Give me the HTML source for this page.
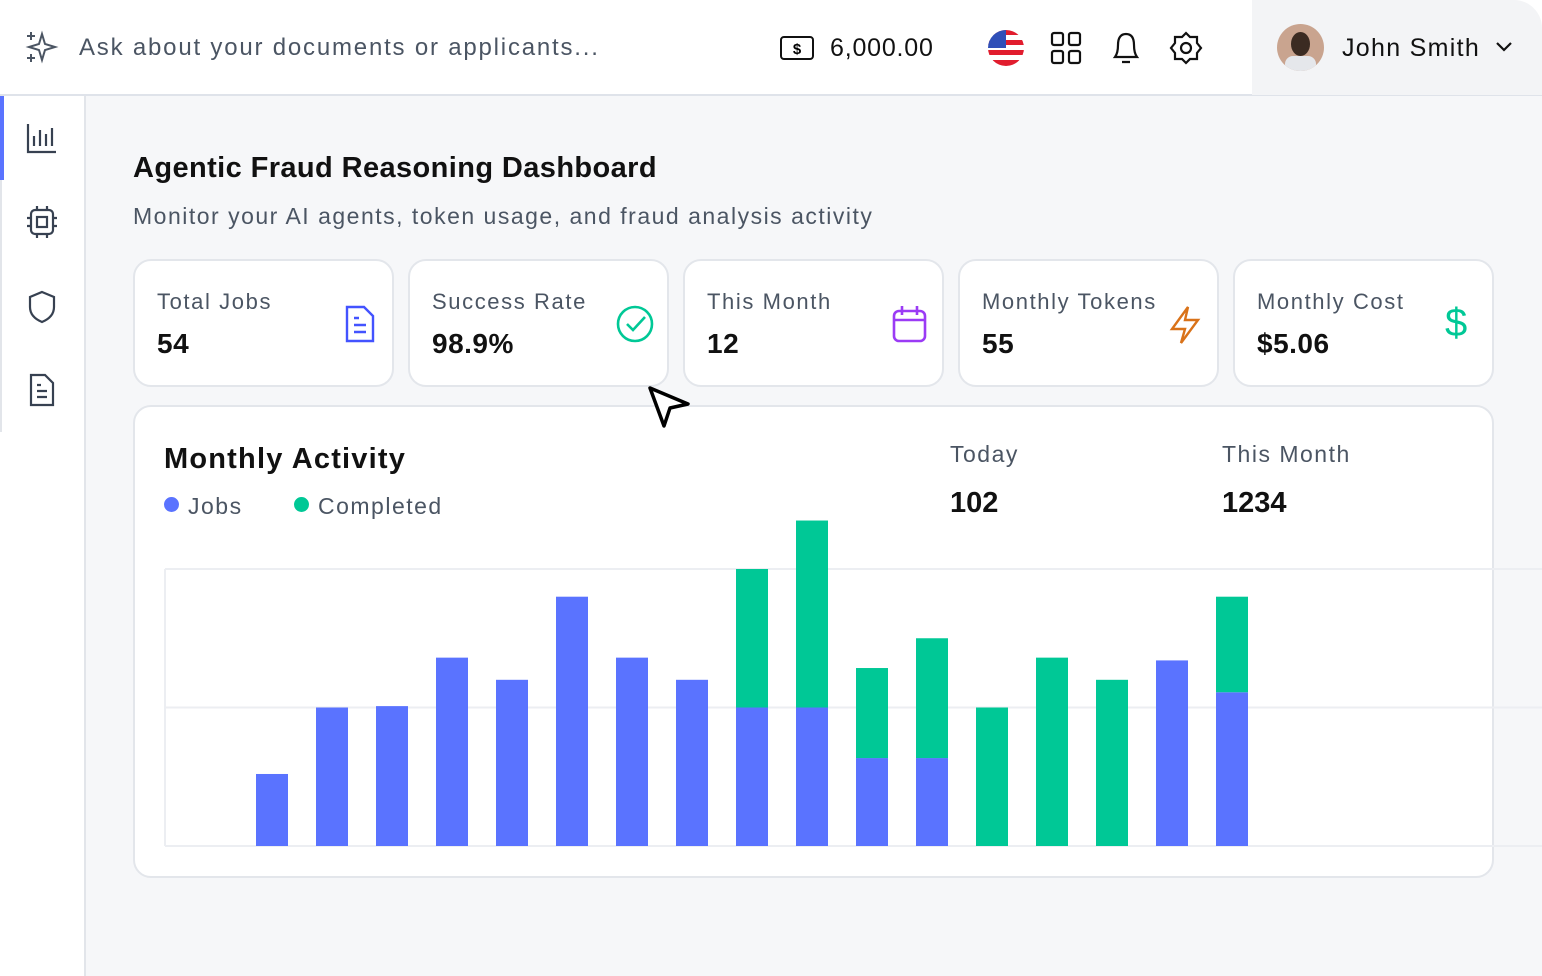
<!DOCTYPE html>
<html><head><meta charset="utf-8">
<style>
*{box-sizing:border-box;margin:0;padding:0}
body{width:1542px;height:976px;overflow:hidden;background:#f6f7f9;font-family:"Liberation Sans",sans-serif;position:relative;color:#111827}
.abs{position:absolute}
.top{left:0;top:0;width:1542px;height:96px;background:#fff;border-bottom:2px solid #dfe3ea}
.prof{left:1252px;top:0;width:290px;height:95px;background:#f3f4f6;border-top-right-radius:28px}
.side{left:0;top:96px;width:86px;height:880px;background:#fff;border-right:2px solid #e2e5ea}
.card{background:#fff;border:2px solid #e3e6eb;border-radius:18px}
.lbl{font-size:22px;color:#4b5563;letter-spacing:1.6px}
.val{font-size:28px;font-weight:bold;color:#111;letter-spacing:0.5px}
.ls{letter-spacing:1.5px}
svg{overflow:visible}
</style></head><body>
<div class="abs top"></div>
<div class="abs prof"></div>
<svg class="abs" style="left:26px;top:30px" width="32" height="34"><path d="M16 4 L19 14 L29 17 L19 20 L16 30 L13 20 L3 17 L13 14Z M5 2v8 M1 6h8 M5 24v8 M1 28h8" fill="none" stroke="#4b5563" stroke-width="2"/></svg>
<div class="abs" style="left:79px;top:34px;font-size:24px;color:#4b5563;letter-spacing:1.8px">Ask about your documents or applicants...</div>
<svg class="abs" style="left:780px;top:36px" width="34" height="24"><rect x="1" y="1" width="32" height="22" rx="3" fill="none" stroke="#111" stroke-width="2"/><text x="17" y="18" font-size="15" text-anchor="middle" font-family="Liberation Sans" font-weight="bold">$</text></svg>
<div class="abs" style="left:830px;top:34px;font-size:25px;color:#111;letter-spacing:0.8px">6,000.00</div>
<svg class="abs" style="left:988px;top:30px" width="36" height="36"><clipPath id="c"><circle cx="18" cy="18" r="18"/></clipPath><g clip-path="url(#c)"><rect width="36" height="36" fill="#fff"/><rect y="0" width="36" height="5" fill="#e11d2e"/><rect y="10" width="36" height="5" fill="#e11d2e"/><rect y="20" width="36" height="5" fill="#e11d2e"/><rect y="30" width="36" height="6" fill="#e11d2e"/><rect width="18" height="18" fill="#2f4fb8"/></g></svg>
<svg class="abs" style="left:1051px;top:32px" width="30" height="32"><g fill="none" stroke="#111" stroke-width="2.2"><rect x="1" y="1" width="11" height="12" rx="2"/><rect x="18" y="1" width="11" height="12" rx="2"/><rect x="1" y="19" width="11" height="12" rx="2"/><rect x="18" y="19" width="11" height="12" rx="2"/></g></svg>
<svg class="abs" style="left:1111px;top:31px" width="30" height="34"><path d="M4 26 Q7 22 7 14 Q7 3 15 3 Q23 3 23 14 Q23 22 26 26Z M11 31h8" fill="none" stroke="#111" stroke-width="2.2"/></svg>
<svg class="abs" style="left:1170px;top:31px" width="32" height="34"><path d="M16 2 L20 6 L27 6 L27 12 L31 17 L27 22 L27 28 L20 28 L16 32 L12 28 L5 28 L5 22 L1 17 L5 12 L5 6 L12 6Z" fill="none" stroke="#111" stroke-width="2.2"/><circle cx="16" cy="17" r="5" fill="none" stroke="#111" stroke-width="2.2"/></svg>
<div class="abs" style="left:1277px;top:24px;width:47px;height:47px;border-radius:50%;background:#c9a48f;overflow:hidden"><div class="abs" style="left:14px;top:8px;width:19px;height:24px;border-radius:50%;background:#3b2b22"></div><div class="abs" style="left:8px;top:32px;width:31px;height:15px;border-radius:8px 8px 0 0;background:#e5e7eb"></div></div>
<div class="abs" style="left:1342px;top:34px;font-size:25px;color:#111;letter-spacing:1.3px">John Smith</div>
<svg class="abs" style="left:1496px;top:42px" width="16" height="10"><path d="M1 1 L8 8 L15 1" fill="none" stroke="#111" stroke-width="2.2"/></svg>

<div class="abs side"></div>
<div class="abs" style="left:0;top:96px;width:4px;height:84px;background:#5a73ff"></div>
<div class="abs" style="left:0;top:180px;width:2px;height:252px;background:#e2e5ea"></div>
<svg class="abs" style="left:26px;top:122px" width="32" height="32"><path d="M2 2v28h28 M8 24v-10 M14 24v-16 M20 24v-12 M26 24v-18" fill="none" stroke="#374151" stroke-width="2.2"/></svg>
<svg class="abs" style="left:26px;top:205px" width="32" height="34"><rect x="5" y="5" width="22" height="24" rx="4" fill="none" stroke="#374151" stroke-width="2.2"/><rect x="11" y="12" width="10" height="10" fill="none" stroke="#374151" stroke-width="2.2"/><path d="M11 1v4M21 1v4M11 29v4M21 29v4M1 13h4M1 21h4M27 13h4M27 21h4" stroke="#374151" stroke-width="2.2"/></svg>
<svg class="abs" style="left:28px;top:290px" width="28" height="34"><path d="M14 2 L26 7 V17 Q26 27 14 32 Q2 27 2 17 V7Z" fill="none" stroke="#374151" stroke-width="2.2"/></svg>
<svg class="abs" style="left:28px;top:373px" width="28" height="34"><path d="M3 2h14l8 8v22H3Z M9 18h10M9 24h10M9 12h4" fill="none" stroke="#374151" stroke-width="2.2"/></svg>

<div class="abs" style="left:133px;top:152px;font-size:29px;font-weight:bold;color:#111;letter-spacing:0.4px">Agentic Fraud Reasoning Dashboard</div>
<div class="abs" style="left:133px;top:203px;font-size:23px;color:#4b5563;letter-spacing:1.5px">Monitor your AI agents, token usage, and fraud analysis activity</div>

<div class="abs card" style="left:133px;top:259px;width:261px;height:128px"><div class="abs lbl" style="left:22px;top:28px">Total Jobs</div><div class="abs val" style="left:22px;top:67px">54</div><svg class="abs" style="left:210px;top:44px" width="30" height="38"><path d="M2 2h17l9 9v25H2Z M9 20h12M9 27h12M9 13h5" fill="none" stroke="#4353ff" stroke-width="2.4"/></svg></div>
<div class="abs card" style="left:408px;top:259px;width:261px;height:128px"><div class="abs lbl" style="left:22px;top:28px">Success Rate</div><div class="abs val" style="left:22px;top:67px">98.9%</div><svg class="abs" style="left:206px;top:44px" width="38" height="38"><circle cx="19" cy="19" r="17" fill="none" stroke="#00c896" stroke-width="2.6"/><path d="M11 19l6 6 12-13" fill="none" stroke="#00c896" stroke-width="2.6"/></svg></div>
<div class="abs card" style="left:683px;top:259px;width:261px;height:128px"><div class="abs lbl" style="left:22px;top:28px">This Month</div><div class="abs val" style="left:22px;top:67px">12</div><svg class="abs" style="left:207px;top:44px" width="36" height="38"><rect x="2" y="6" width="31" height="30" rx="5" fill="none" stroke="#9b3bf5" stroke-width="2.6"/><path d="M2 15h31M10 1v9M25 1v9" stroke="#9b3bf5" stroke-width="2.6"/></svg></div>
<div class="abs card" style="left:958px;top:259px;width:261px;height:128px"><div class="abs lbl" style="left:22px;top:28px">Monthly Tokens</div><div class="abs val" style="left:22px;top:67px">55</div><svg class="abs" style="left:208px;top:44px" width="34" height="40"><path d="M20 2 L4 24 H17 L13 38 L30 15 H17Z" fill="none" stroke="#d97219" stroke-width="2.4"/></svg></div>
<div class="abs card" style="left:1233px;top:259px;width:261px;height:128px"><div class="abs lbl" style="left:22px;top:28px">Monthly Cost</div><div class="abs val" style="left:22px;top:67px">$5.06</div><div class="abs" style="left:210px;top:40px;font-size:40px;color:#00c896">$</div></div>

<div class="abs card" style="left:133px;top:405px;width:1361px;height:473px"></div>
<div class="abs" style="left:164px;top:443px;font-size:29px;font-weight:bold;color:#111;letter-spacing:1.2px">Monthly Activity</div>
<div class="abs" style="left:164px;top:497px;width:15px;height:15px;border-radius:50%;background:#5a73ff"></div>
<div class="abs ls" style="left:188px;top:493px;font-size:23px;color:#4b5563">Jobs</div>
<div class="abs" style="left:294px;top:497px;width:15px;height:15px;border-radius:50%;background:#00c896"></div>
<div class="abs ls" style="left:318px;top:493px;font-size:23px;color:#4b5563">Completed</div>
<div class="abs ls" style="left:950px;top:441px;font-size:23px;color:#4b5563">Today</div>
<div class="abs" style="left:950px;top:487px;font-size:29px;font-weight:bold;color:#111">102</div>
<div class="abs ls" style="left:1222px;top:441px;font-size:23px;color:#4b5563">This Month</div>
<div class="abs" style="left:1222px;top:487px;font-size:29px;font-weight:bold;color:#111">1234</div>

<svg id="chart" class="abs" style="left:0;top:0" width="1542" height="976"></svg>

<svg class="abs" style="left:648px;top:386px" width="44" height="44"><path d="M2 2 L40 18 L22 22 L16 40Z" fill="#fff" stroke="#000" stroke-width="3.5" stroke-linejoin="round"/></svg>

<script>
const categories=["1","2","3","4","5","6","7","8","9","10","11","12","13","14","15","16","17","18"];
const jobs=[0,5.2,10,10.1,13.6,12,18,13.6,12,10,10,6.35,6.35,0,0,0,13.4,11.1];
const completed=[0,0,0,0,0,0,0,0,0,10,13.5,6.5,8.65,10,13.6,12,0,6.9];
const gridTicks=[0,10,20];
const NS="http://www.w3.org/2000/svg";
const svg=document.getElementById('chart');
const x0=196, step=60, bw=32, y0=846, pxPer=13.85;
const xs=i=>x0+i*step;
const ys=v=>y0-v*pxPer;
gridTicks.forEach(t=>{
  const l=document.createElementNS(NS,'line');
  
  
  l.setAttribute('x1',165);l.setAttribute('x2',1542);
  l.setAttribute('y1',ys(t));l.setAttribute('y2',ys(t));
  l.setAttribute('stroke','#eceef2');l.setAttribute('stroke-width',2);
  svg.appendChild(l);
});
const ax=document.createElementNS(NS,'line');


ax.setAttribute('x1',165);ax.setAttribute('x2',165);ax.setAttribute('y1',ys(20));ax.setAttribute('y2',y0);
ax.setAttribute('stroke','#eceef2');ax.setAttribute('stroke-width',2);
svg.appendChild(ax);
categories.forEach((c,i)=>{
  const j=jobs[i], k=completed[i];
  if(j>0){
    const r=document.createElementNS(NS,'rect');
    
    
    r.setAttribute('x',xs(i));r.setAttribute('width',bw);
    r.setAttribute('y',ys(j));r.setAttribute('height',y0-ys(j));
    r.setAttribute('fill','#5a73ff');svg.appendChild(r);
  }
  if(k>0){
    const r=document.createElementNS(NS,'rect');
    
    
    r.setAttribute('x',xs(i));r.setAttribute('width',bw);
    r.setAttribute('y',ys(j+k));r.setAttribute('height',ys(j)-ys(j+k));
    r.setAttribute('fill','#00c896');svg.appendChild(r);
  }
});
</script>
</body></html>
